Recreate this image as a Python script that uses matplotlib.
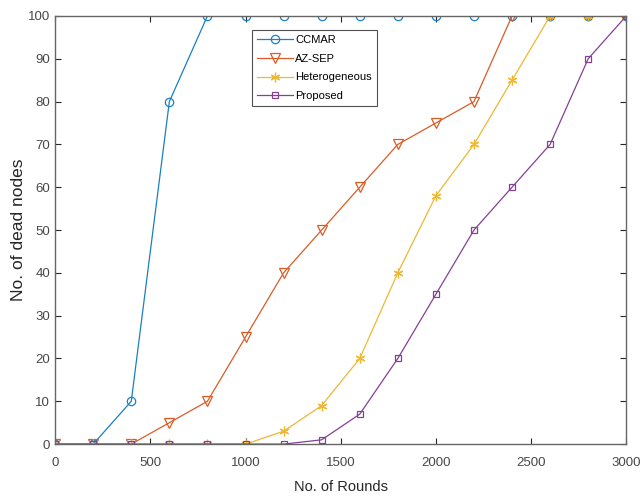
import matplotlib
matplotlib.use("Agg")
import matplotlib.pyplot as plt

rounds = [0, 200, 400, 600, 800, 1000, 1200, 1400, 1600, 1800, 2000, 2200, 2400, 2600, 2800, 3000]
ccmar = [0, 0, 10, 80, 100, 100, 100, 100, 100, 100, 100, 100, 100, 100, 100, 100]
azsep = [0, 0, 0, 5, 10, 25, 40, 50, 60, 70, 75, 80, 100, 100, 100, 100]
hetero = [0, 0, 0, 0, 0, 0, 3, 9, 20, 40, 58, 70, 85, 100, 100, 100]
proposed = [0, 0, 0, 0, 0, 0, 0, 1, 7, 20, 35, 50, 60, 70, 90, 100]

labels = ["CCMAR", "AZ-SEP", "Heterogeneous", "Proposed"]
xticks = [0, 500, 1000, 1500, 2000, 2500, 3000]
yticks = [0, 10, 20, 30, 40, 50, 60, 70, 80, 90, 100]

plt.rcParams['font.family'] = ['Liberation Sans', 'DejaVu Sans']
axc = (0.15, 0.15, 0.15)
tickc = (0.28, 0.28, 0.28)

fig = plt.figure(figsize=(6.41, 4.99), dpi=100)
ax = fig.add_axes([0.086, 0.110, 0.891, 0.858])

cols = [(0.1, 0.5, 0.76), (0.85, 0.36, 0.15), (0.93, 0.72, 0.2), (0.52, 0.25, 0.58)]
marks = ['o', 'v', (6, 2, 0), 's']
msz = [6, 6.5, 7, 5]
for ys, lab, c, m, s in zip([ccmar, azsep, hetero, proposed], labels, cols, marks, msz):
    ax.plot(rounds, ys, color=c, marker=m, markersize=s, markerfacecolor='none',
            markeredgecolor=c, linewidth=0.9, markeredgewidth=0.9, label=lab)

ax.set_xlim(0, 3000)
ax.set_ylim(0, 100)
ax.set_xticks(xticks)
ax.set_yticks(yticks)
ax.tick_params(direction='in', top=True, right=True, labelsize=9.5, colors=axc,
               labelcolor=tickc, length=4, width=0.8)
ax.tick_params(axis='x', pad=9)
ax.tick_params(axis='y', pad=3.5)
for sp in ax.spines.values():
    sp.set_color((0.4, 0.4, 0.4))
    sp.set_linewidth(1.0)
ax.set_xlabel("No. of Rounds", fontsize=10.5, color=axc, labelpad=8)
ax.set_ylabel("No. of dead nodes", fontsize=12.5, color=axc, labelpad=1.5)

leg = ax.legend(loc='upper left', bbox_to_anchor=(0.345, 0.967), fontsize=8, frameon=True,
                fancybox=False, edgecolor=axc, borderpad=0.45, labelspacing=0.78,
                handlelength=3.2, handletextpad=0.2, borderaxespad=0)
leg.get_frame().set_linewidth(0.8)

fig.savefig("out.png", dpi=100)
